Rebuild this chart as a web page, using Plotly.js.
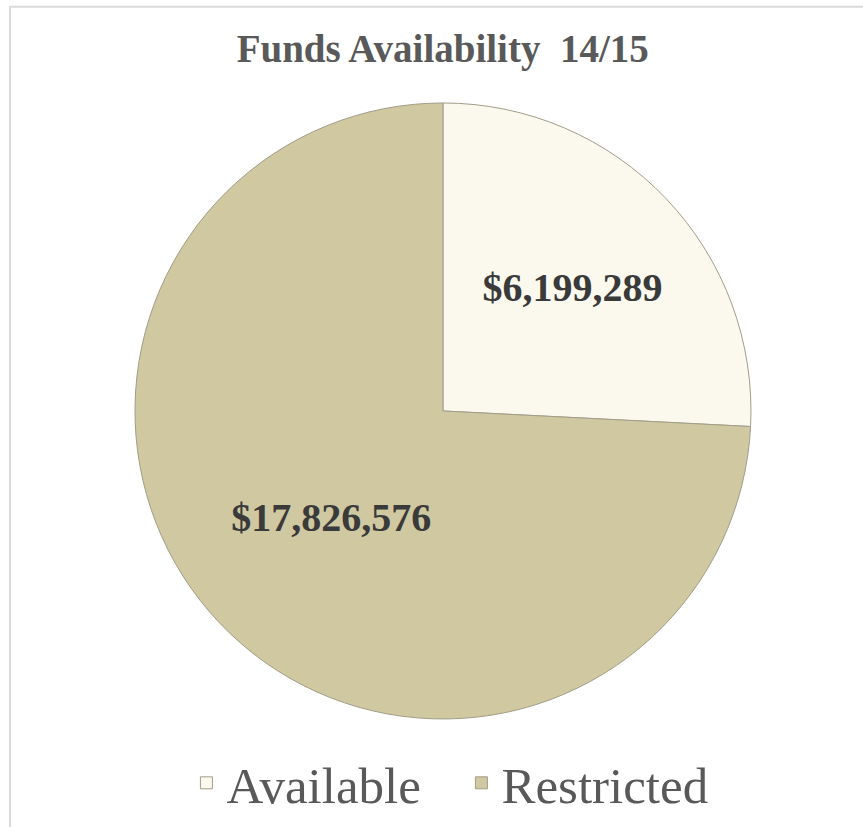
<!DOCTYPE html>
<html>
<head>
<meta charset="utf-8">
<script src="https://cdn.plot.ly/plotly-3.0.1.min.js"></script>
<style>html,body{margin:0;padding:0;background:#fff;}#chart{width:863px;height:827px;}</style>
</head>
<body>
<div id="chart"></div>
<script>
const labels = ["Available", "Restricted"];
const values = [6199289, 17826576];
const colors = ["#FBF9EE", "#CFC8A1"];
const chartTitle = "Funds Availability  14/15";

const trace = {
  type: "pie",
  labels: labels,
  values: values,
  sort: false,
  direction: "clockwise",
  rotation: 0,
  marker: { colors: colors, line: { color: "#A19D89", width: 1 } },
  texttemplate: "$%{value:,.0f}",
  textposition: "inside",
  insidetextorientation: "horizontal",
  textfont: { family: "Liberation Serif, Times New Roman, serif", size: 40, color: "#3A3A3A", weight: "bold" },
  hoverinfo: "none",
  domain: { x: [0.1564, 0.8702], y: [0.1306, 0.8755] }
};

const layout = {
  width: 863,
  height: 827,
  margin: { l: 0, r: 0, t: 0, b: 0 },
  paper_bgcolor: "#FFFFFF",
  title: {
    text: chartTitle,
    x: 0.513, xanchor: "center",
    y: 0.941, yanchor: "middle",
    font: { family: "Liberation Serif, Times New Roman, serif", size: 39, color: "#595959", weight: "bold" }
  },
  showlegend: true,
  legend: {
    orientation: "h",
    x: 0.216, xanchor: "left",
    y: 0.053, yanchor: "middle",
    entrywidth: 230, entrywidthmode: "pixels",
    font: { family: "Liberation Serif, Times New Roman, serif", size: 51, color: "#595959" },
    itemclick: false, itemdoubleclick: false
  },
  shapes: [{
    type: "rect", xref: "paper", yref: "paper",
    x0: 0.0116, x1: 1.05, y0: -0.05, y1: 0.9918,
    line: { color: "#DADADA", width: 2 },
    fillcolor: "rgba(0,0,0,0)"
  }]
};

Plotly.newPlot("chart", [trace], layout, { displayModeBar: false, staticPlot: true });
</script>
</body>
</html>
